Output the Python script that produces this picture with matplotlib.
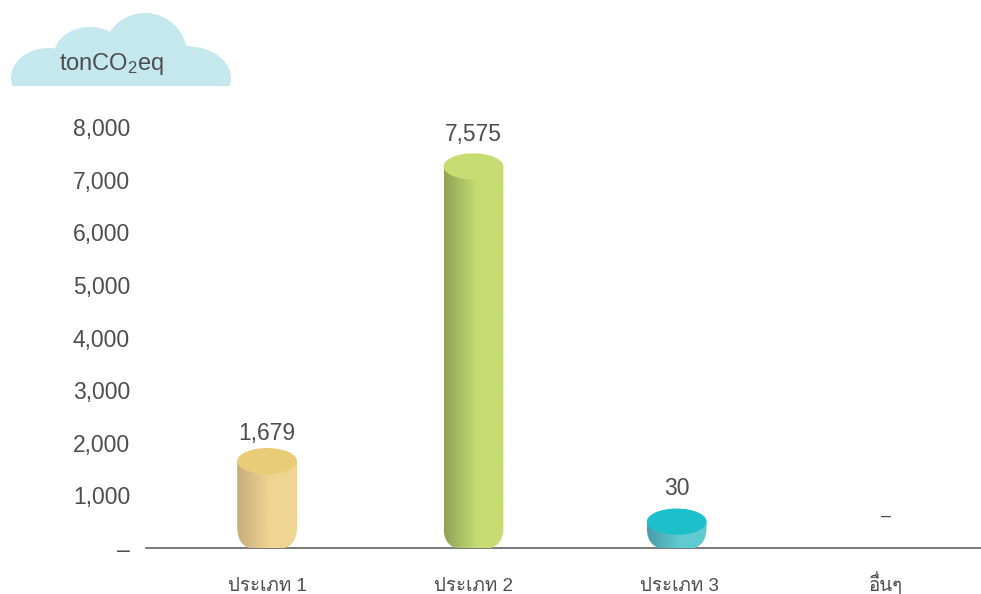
import matplotlib
matplotlib.use("Agg")
import matplotlib.pyplot as plt
import numpy as np
from matplotlib import font_manager as fm
from matplotlib.colors import LinearSegmentedColormap
from matplotlib.patches import Ellipse, PathPatch, Rectangle
from matplotlib.path import Path

categories = ["ประเภท 1", "ประเภท 2", "ประเภท 3", "อื่นๆ"]
value_labels = ["1,679", "7,575", "30", "–"]
# height the bars are actually drawn at (bar 2 and 3 are not to scale in the picture)
drawn_heights = [1650, 7250, 500, 0]
y_ticks = [0, 1000, 2000, 3000, 4000, 5000, 6000, 7000, 8000]
y_labels = ["–", "1,000", "2,000", "3,000", "4,000", "5,000", "6,000", "7,000", "8,000"]
side_left = ["#c6ae7c", "#8ea356", "#4a9ca8"]
side_right = ["#efd492", "#c6dc72", "#5fcbd0"]
top_colors = ["#e9cc78", "#c6dc72", "#1cbfca"]

# layout
bar_shift = [0, 0, -0.015, 0]
label_gap = [2.5, 5.5, 6, 16.5]

TEXT = "#4d4d4f"
W, H = 981, 594

# find whatever installed font has thai glyphs
thai_fonts = []
for f in fm.fontManager.ttflist:
    try:
        if 0x0E1B in fm.get_font(f.fname).get_charmap() and f.name not in thai_fonts:
            thai_fonts.append(f.name)
    except Exception:
        pass

plt.rcParams["font.family"] = ["Liberation Sans"] + thai_fonts + ["DejaVu Sans"]
plt.rcParams["mathtext.default"] = "regular"

fig = plt.figure(figsize=(W / 100, H / 100), dpi=100)

ax = fig.add_axes([146 / W, 1 - 548 / H, (981 - 146) / W, (548 - 127) / H])
for s in ["top", "left", "right"]:
    ax.spines[s].set_visible(False)
ax.spines["bottom"].set_color("#555555")
ax.spines["bottom"].set_linewidth(1.1)

ax.set_yticks(y_ticks)
ax.set_yticklabels(y_labels, fontsize=16.5, color=TEXT)
ax.set_xticks(range(len(categories)))
ax.set_xticklabels(categories, fontsize=13.5, color=TEXT, va="baseline")
ax.tick_params(axis="both", length=0)
ax.tick_params(axis="y", pad=11.5)
ax.tick_params(axis="x", pad=31)

bar_w = 0.29
rx = bar_w / 2
ry = 250.0
round_y = 420.0

for i, h in enumerate(drawn_heights):
    xc = i + bar_shift[i]
    if h > 0:
        left, right = xc - rx, xc + rx
        corner = rx * 0.7
        bottom = -25
        verts = [
            (left, h), (left, bottom + round_y),
            (left, bottom), (left + corner, bottom),
            (right - corner, bottom),
            (right, bottom), (right, bottom + round_y),
            (right, h), (left, h),
        ]
        codes = [Path.MOVETO, Path.LINETO, Path.CURVE3, Path.CURVE3, Path.LINETO,
                 Path.CURVE3, Path.CURVE3, Path.LINETO, Path.CLOSEPOLY]
        clip = PathPatch(Path(verts, codes), transform=ax.transData, fc="none", ec="none")
        ax.add_patch(clip)
        cmap = LinearSegmentedColormap.from_list(
            "side", [(0, side_left[i]), (0.55, side_right[i]), (1, side_right[i])])
        im = ax.imshow(np.linspace(0, 1, 128).reshape(1, -1), cmap=cmap, aspect="auto",
                       extent=(left, right, bottom, h), zorder=3)
        im.set_clip_path(clip)
        ax.add_patch(Ellipse((xc, h), bar_w, ry * 2, fc=top_colors[i], ec="none",
                             zorder=4, clip_on=False))
        ax.annotate(value_labels[i], (xc, h + ry), xytext=(0, label_gap[i]),
                    textcoords="offset points", ha="center", va="bottom",
                    fontsize=16.5, color=TEXT)
    else:
        ax.annotate(value_labels[i], (xc, 0), xytext=(0, label_gap[i]),
                    textcoords="offset points", ha="center", va="bottom",
                    fontsize=13, color=TEXT)

# imshow resets the limits
ax.set_xlim(-0.587, 3.46)
ax.set_ylim(0, 8000)

# cloud, drawn in pixel coords of the picture
bg = fig.add_axes([0, 0, 1, 1], zorder=-1)
bg.set_xlim(0, W)
bg.set_ylim(H, 0)
bg.axis("off")
cloud = "#c5e8ee"
box = Rectangle((0, 0), 240, 85.5, transform=bg.transData)
for cx, cy, w, h in [(48, 78, 74, 60), (90, 55, 72, 56), (145, 55, 84, 84),
                     (185, 78, 92, 64), (120, 75, 170, 50)]:
    e = Ellipse((cx, cy), w, h, fc=cloud, ec="none")
    bg.add_patch(e)
    e.set_clip_path(box)
fig.text(112 / W, 1 - 64 / H, "tonCO$_2$eq", fontsize=17, color=TEXT, ha="center", va="center")

fig.savefig("out.png", dpi=100)
